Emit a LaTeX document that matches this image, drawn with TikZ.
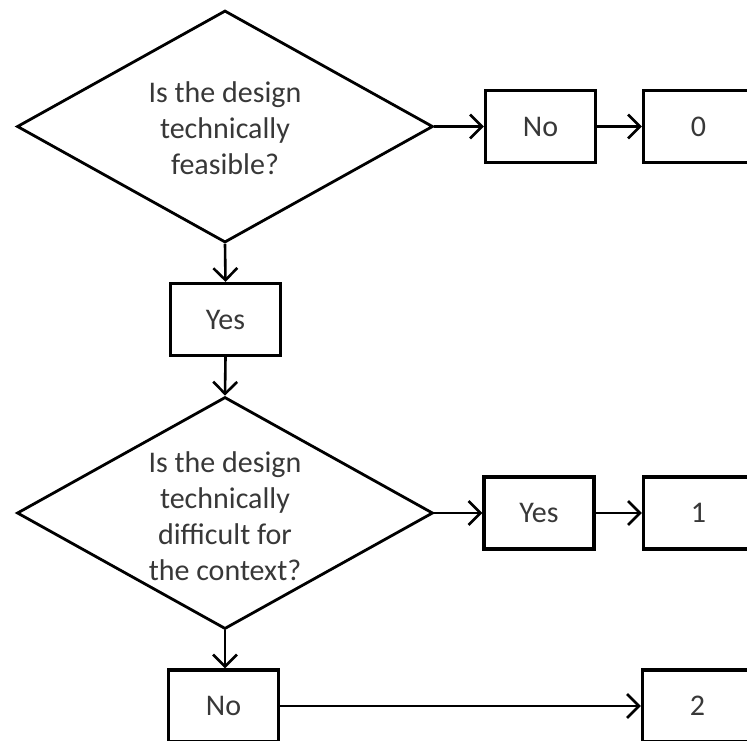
\documentclass[tikz,border=0pt]{standalone}
\usepackage{fontspec}
\setmainfont{Carlito}
\usetikzlibrary{shapes.geometric,arrows.meta}
\definecolor{txt}{HTML}{383838}
\tikzset{
  dia/.style={draw=black, line width=2.8pt, shape=diamond, inner sep=0pt,
    minimum width=416pt, minimum height=232pt, line join=miter},
  qtext/.style={align=center, text=txt, font=\fontsize{30pt}{36pt}\selectfont, inner sep=0pt},
  box/.style={draw=black, line width=3.2pt, minimum width=110pt, minimum height=72pt,
    inner sep=0pt, text=txt, font=\fontsize{30pt}{36pt}\selectfont},
  arr/.style={draw=black, line width=2.6pt, -{Straight Barb[length=12pt,width=24pt,line width=2.6pt]}}
}
\begin{document}
\begin{tikzpicture}[x=1pt,y=-1pt]
\useasboundingbox (0,0) rectangle (747,740);
\fill[white] (0,0) rectangle (747,740);
\begin{scope}
\clip (0,0) rectangle (747,740);
% first question
\node[dia] (d1) at (225,126.5) {};
\node[qtext] (d1t) at (225,128) {Is the design\\technically\\feasible?};
\node[box] (no1) at (540.5,126.5) {No};
\node[box] (zero) at (698.5,126.5) {0};
\node[box] (yes1) at (225.5,319.5) {Yes};
% second question
\node[dia] (d2) at (225,513) {};
\node[qtext] (d2t) at (225,516) {Is the design\\technically\\difficult for\\the context?};
\node[box] (yes2) at (539,513) {Yes};
\node[box] (one) at (698.5,513) {1};
\node[box] (no2) at (223.5,706) {No};
\node[box] (two) at (697.5,706) {2};
% connectors
\draw[arr] (d1.east) -- (no1.west);
\draw[arr] (no1.east) -- (zero.west);
\draw[arr] (d1.south) -- (yes1.north);
\draw[arr] (yes1.south) -- (d2.north);
\draw[arr] (d2.east) -- (yes2.west);
\draw[arr] (yes2.east) -- (one.west);
\draw[arr] (d2.south) -- (d2.south |- no2.north);
\draw[arr] (no2.east) -- (two.west);
\end{scope}
\end{tikzpicture}
\end{document}
